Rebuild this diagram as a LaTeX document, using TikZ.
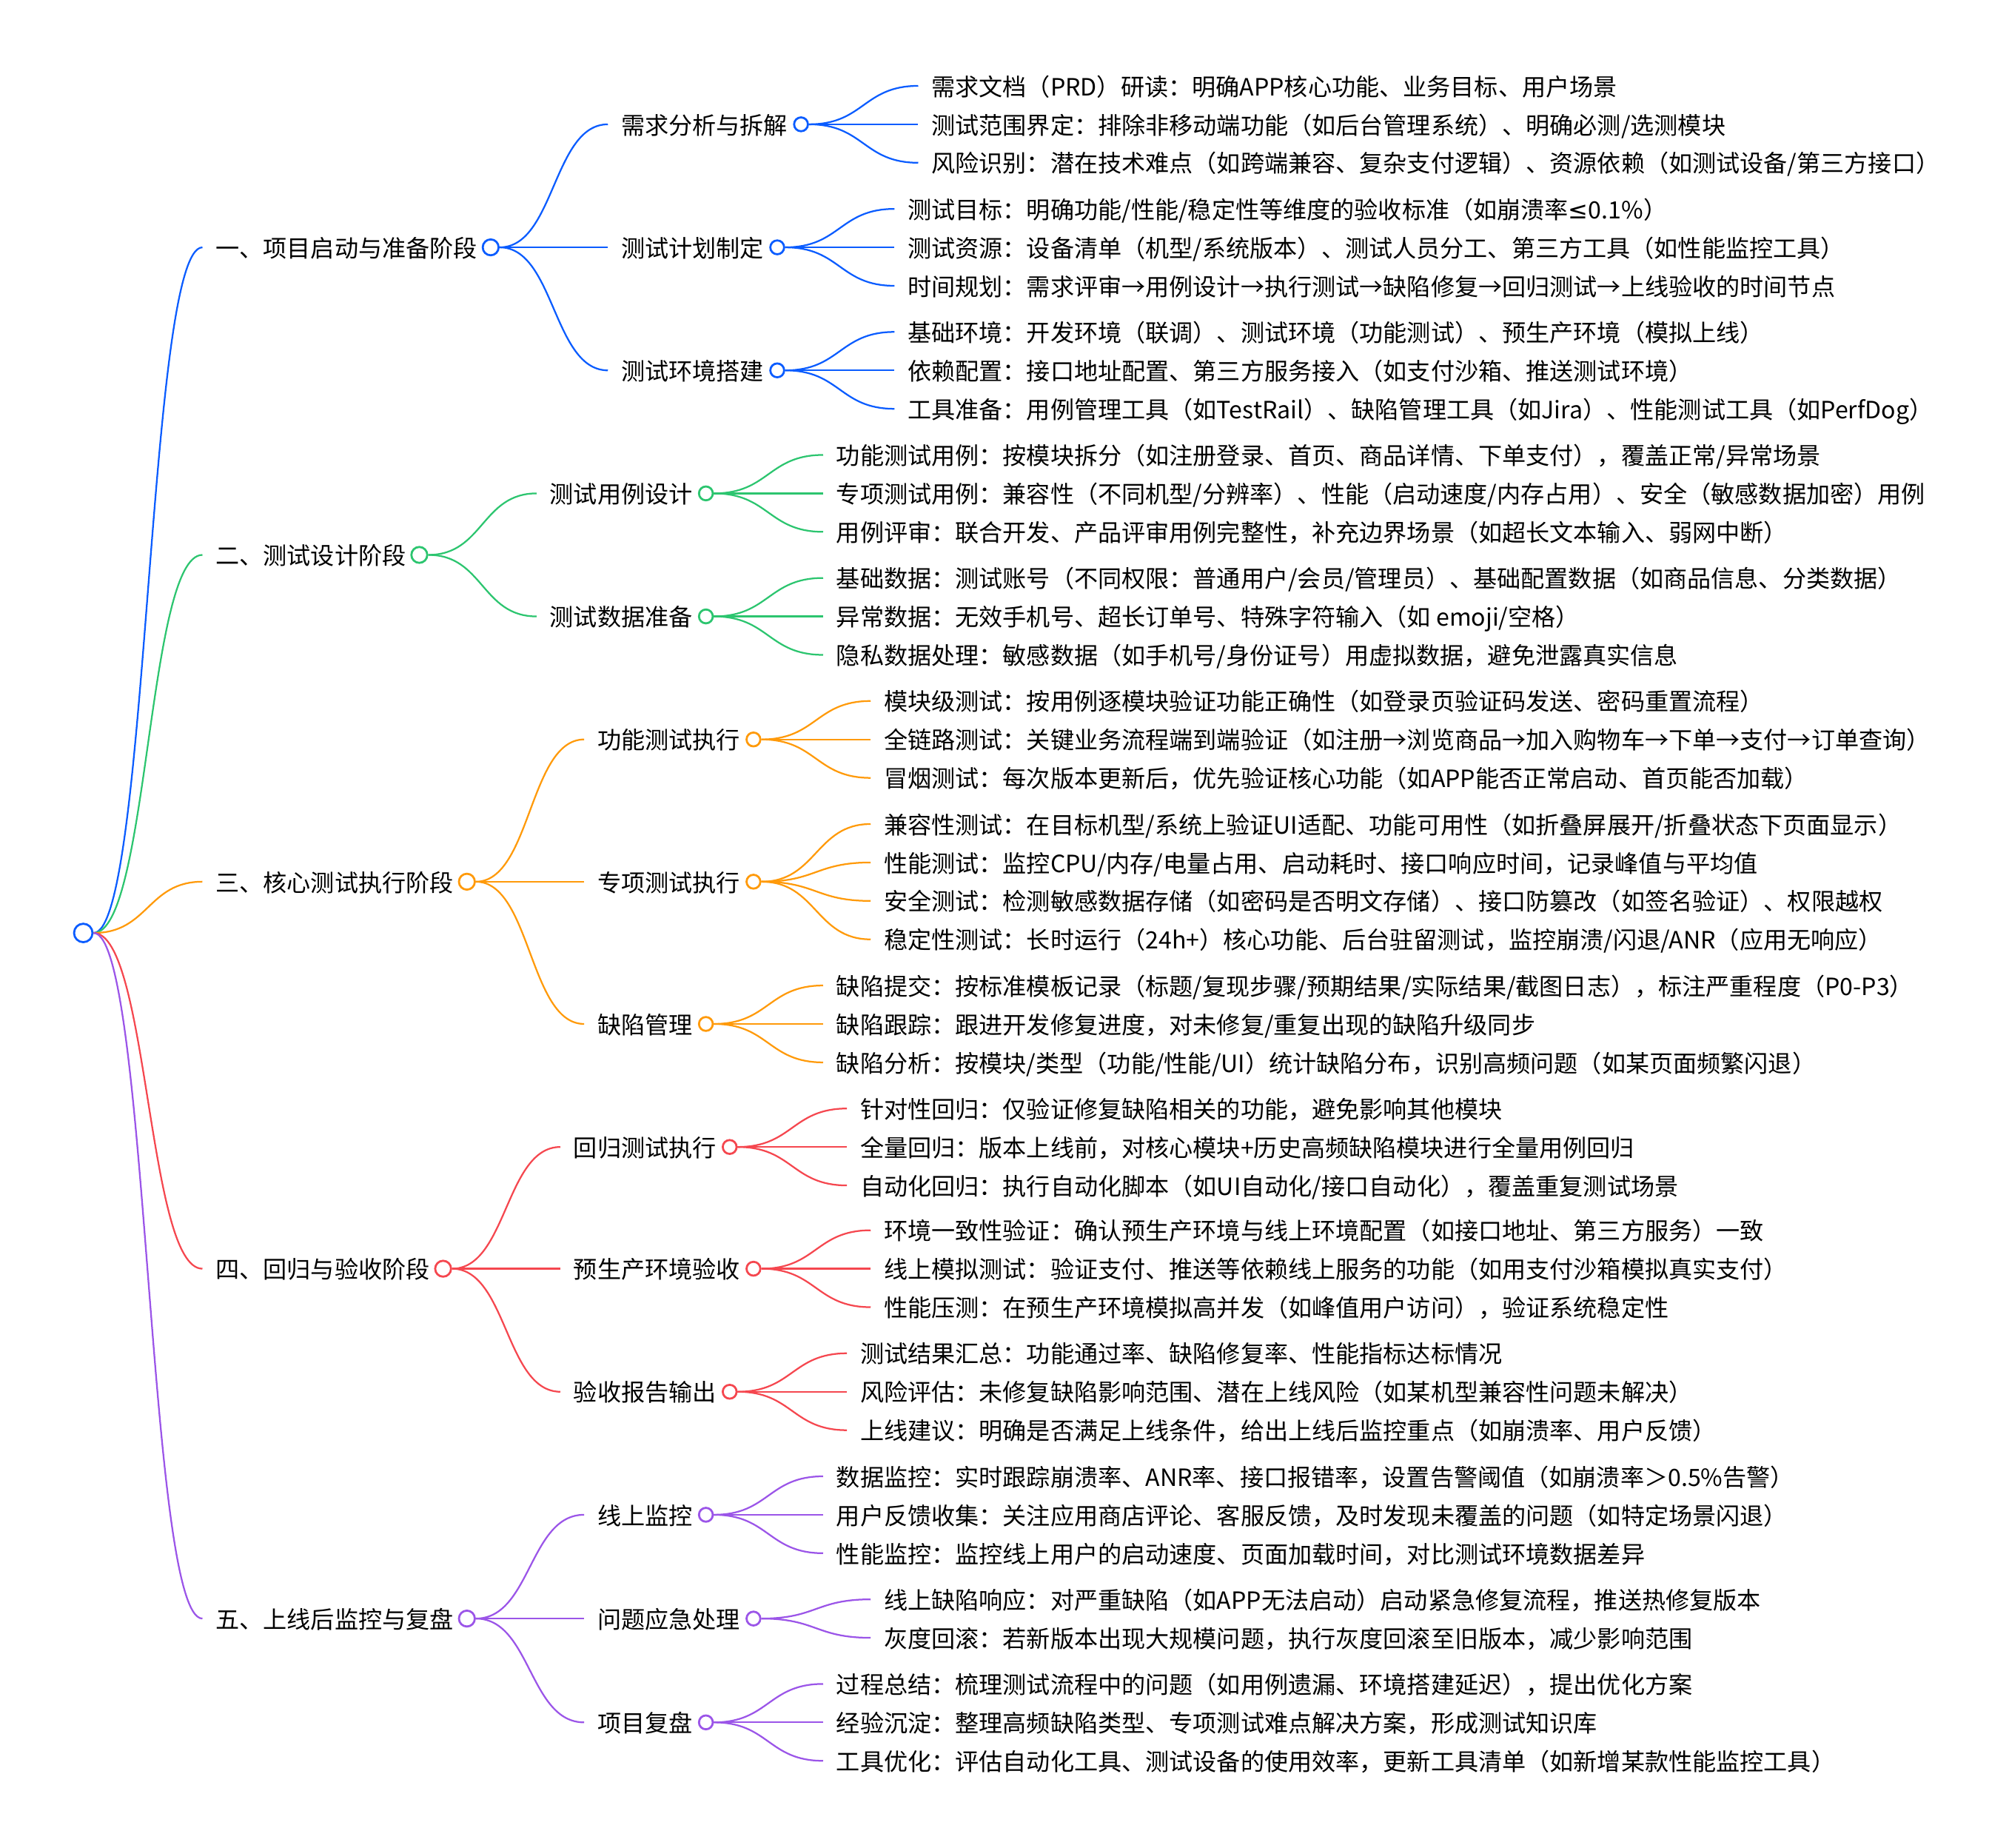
\documentclass[tikz,border=0pt]{standalone}
\usepackage{fontspec}
\setmainfont{Noto Sans CJK SC}
\newfontfamily\symf{DejaVu Sans}
\definecolor{cblue}{HTML}{0A5CFF}
\definecolor{cgreen}{HTML}{2CC56F}
\definecolor{corange}{HTML}{FF9A0A}
\definecolor{cred}{HTML}{F5474F}
\definecolor{cpurple}{HTML}{9B55E8}
\tikzset{
  txt/.style={anchor=west,inner xsep=5pt,inner ysep=0pt,text height=0.88em,text depth=0.12em},
  dot/.style={circle,draw=#1,fill=white,line width=0.8pt,inner sep=0pt,minimum size=5.4pt},
  link/.style={draw=#1,line width=0.65pt,out=0,in=180,distance=21.5pt},
}
\begin{document}
\begin{tikzpicture}[x=0.5pt,y=-0.5pt,font=\fontsize{9.28pt}{11pt}\selectfont]
\useasboundingbox (0,0) rectangle (1568,1441.9);
\node[dot=cblue,minimum size=7.2pt](root) at (65,728) {};
% stages
\foreach \n/\y/\c/\t in {a/193/cblue/一、项目启动与准备阶段,b/433/cgreen/二、测试设计阶段,
  c/688/corange/三、核心测试执行阶段,d/990/cred/四、回归与验收阶段,e/1263/cpurple/五、上线后监控与复盘}{
  \node[txt](\n) at (158,\y) {\t};
  \draw[link=\c](root.east) to (\n.west);
  \node[dot=\c,minimum size=6.2pt](\n-d) at (\n.east) {};
}
% steps
\foreach \p/\n/\c/\dy/\t in {a/a1/cblue/-96/需求分析与拆解,a/a2/cblue/0/测试计划制定,a/a3/cblue/96/测试环境搭建,
  b/b1/cgreen/-48/测试用例设计,b/b2/cgreen/48/测试数据准备,
  c/c1/corange/-111/功能测试执行,c/c2/corange/0/专项测试执行,c/c3/corange/111/缺陷管理,
  d/d1/cred/-95/回归测试执行,d/d2/cred/0/预生产环境验收,d/d3/cred/96/验收报告输出,
  e/e1/cpurple/-81/线上监控,e/e2/cpurple/0/问题应急处理,e/e3/cpurple/81/项目复盘}{
  \node[txt](\n) at ([shift={(91.5,\dy)}]\p-d.center) {\t};
  \draw[link=\c](\p-d.east) to (\n.west);
  \node[dot=\c](\n-d) at (\n.east) {};
}
% details
\foreach \p/\c/\dy/\t [count=\i] in {
  a1/cblue/-30/{需求文档（PRD）研读：明确APP核心功能、业务目标、用户场景},
  a1/cblue/0/{测试范围界定：排除非移动端功能（如后台管理系统）、明确必测/选测模块},
  a1/cblue/30/{风险识别：潜在技术难点（如跨端兼容、复杂支付逻辑）、资源依赖（如测试设备/第三方接口）},
  a2/cblue/-30/{测试目标：明确功能/性能/稳定性等维度的验收标准（如崩溃率{\symf ≤}0.1\%）},
  a2/cblue/0/{测试资源：设备清单（机型/系统版本）、测试人员分工、第三方工具（如性能监控工具）},
  a2/cblue/30/{时间规划：需求评审→用例设计→执行测试→缺陷修复→回归测试→上线验收的时间节点},
  a3/cblue/-30/{基础环境：开发环境（联调）、测试环境（功能测试）、预生产环境（模拟上线）},
  a3/cblue/0/{依赖配置：接口地址配置、第三方服务接入（如支付沙箱、推送测试环境）},
  a3/cblue/30/{工具准备：用例管理工具（如TestRail）、缺陷管理工具（如Jira）、性能测试工具（如PerfDog）},
  b1/cgreen/-30/{功能测试用例：按模块拆分（如注册登录、首页、商品详情、下单支付），覆盖正常/异常场景},
  b1/cgreen/0/{专项测试用例：兼容性（不同机型/分辨率）、性能（启动速度/内存占用）、安全（敏感数据加密）用例},
  b1/cgreen/30/{用例评审：联合开发、产品评审用例完整性，补充边界场景（如超长文本输入、弱网中断）},
  b2/cgreen/-30/{基础数据：测试账号（不同权限：普通用户/会员/管理员）、基础配置数据（如商品信息、分类数据）},
  b2/cgreen/0/{异常数据：无效手机号、超长订单号、特殊字符输入（如 emoji/空格）},
  b2/cgreen/30/{隐私数据处理：敏感数据（如手机号/身份证号）用虚拟数据，避免泄露真实信息},
  c1/corange/-30/{模块级测试：按用例逐模块验证功能正确性（如登录页验证码发送、密码重置流程）},
  c1/corange/0/{全链路测试：关键业务流程端到端验证（如注册→浏览商品→加入购物车→下单→支付→订单查询）},
  c1/corange/30/{冒烟测试：每次版本更新后，优先验证核心功能（如APP能否正常启动、首页能否加载）},
  c2/corange/-45/{兼容性测试：在目标机型/系统上验证UI适配、功能可用性（如折叠屏展开/折叠状态下页面显示）},
  c2/corange/-15/{性能测试：监控CPU/内存/电量占用、启动耗时、接口响应时间，记录峰值与平均值},
  c2/corange/15/{安全测试：检测敏感数据存储（如密码是否明文存储）、接口防篡改（如签名验证）、权限越权},
  c2/corange/45/{稳定性测试：长时运行（24h+）核心功能、后台驻留测试，监控崩溃/闪退/ANR（应用无响应）},
  c3/corange/-30/{缺陷提交：按标准模板记录（标题/复现步骤/预期结果/实际结果/截图日志），标注严重程度（P0-P3）},
  c3/corange/0/{缺陷跟踪：跟进开发修复进度，对未修复/重复出现的缺陷升级同步},
  c3/corange/30/{缺陷分析：按模块/类型（功能/性能/UI）统计缺陷分布，识别高频问题（如某页面频繁闪退）},
  d1/cred/-30/{针对性回归：仅验证修复缺陷相关的功能，避免影响其他模块},
  d1/cred/0/{全量回归：版本上线前，对核心模块+历史高频缺陷模块进行全量用例回归},
  d1/cred/30/{自动化回归：执行自动化脚本（如UI自动化/接口自动化），覆盖重复测试场景},
  d2/cred/-30/{环境一致性验证：确认预生产环境与线上环境配置（如接口地址、第三方服务）一致},
  d2/cred/0/{线上模拟测试：验证支付、推送等依赖线上服务的功能（如用支付沙箱模拟真实支付）},
  d2/cred/30/{性能压测：在预生产环境模拟高并发（如峰值用户访问），验证系统稳定性},
  d3/cred/-30/{测试结果汇总：功能通过率、缺陷修复率、性能指标达标情况},
  d3/cred/0/{风险评估：未修复缺陷影响范围、潜在上线风险（如某机型兼容性问题未解决）},
  d3/cred/30/{上线建议：明确是否满足上线条件，给出上线后监控重点（如崩溃率、用户反馈）},
  e1/cpurple/-30/{数据监控：实时跟踪崩溃率、ANR率、接口报错率，设置告警阈值（如崩溃率＞0.5\%告警）},
  e1/cpurple/0/{用户反馈收集：关注应用商店评论、客服反馈，及时发现未覆盖的问题（如特定场景闪退）},
  e1/cpurple/30/{性能监控：监控线上用户的启动速度、页面加载时间，对比测试环境数据差异},
  e2/cpurple/-15/{线上缺陷响应：对严重缺陷（如APP无法启动）启动紧急修复流程，推送热修复版本},
  e2/cpurple/15/{灰度回滚：若新版本出现大规模问题，执行灰度回滚至旧版本，减少影响范围},
  e3/cpurple/-30/{过程总结：梳理测试流程中的问题（如用例遗漏、环境搭建延迟），提出优化方案},
  e3/cpurple/0/{经验沉淀：整理高频缺陷类型、专项测试难点解决方案，形成测试知识库},
  e3/cpurple/30/{工具优化：评估自动化工具、测试设备的使用效率，更新工具清单（如新增某款性能监控工具）}}{
  \node[txt](l\i) at ([shift={(91.5,\dy)}]\p-d.center) {\t};
  \draw[link=\c](\p-d.east) to (l\i.west);
}
\end{tikzpicture}
\end{document}
